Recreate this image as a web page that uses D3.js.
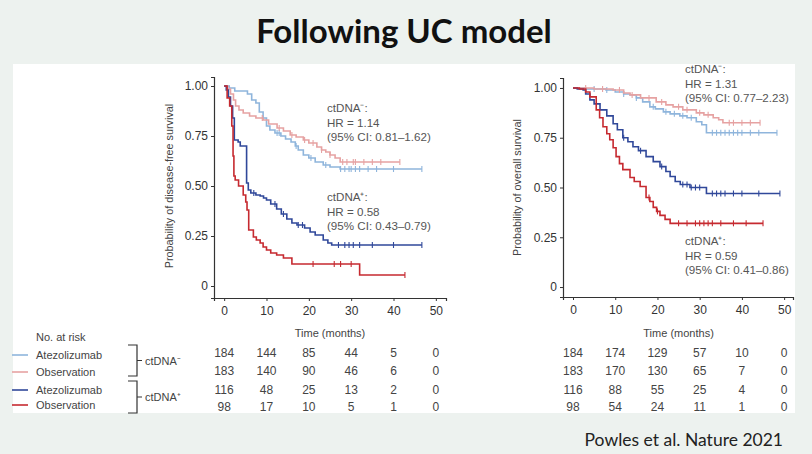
<!DOCTYPE html>
<html>
<head>
<meta charset="utf-8">
<script src="https://cdn.jsdelivr.net/npm/d3@7"></script>
<style>
  body { margin: 0; background: #edf2ef; }
  svg { display: block; font-family: "Liberation Sans", Arial, sans-serif; }
</style>
</head>
<body>
<div id="chart"></div>
<script>
// ---- data ----
const groups = ["Atezolizumab", "Observation", "Atezolizumab", "Observation"];
const groupColors = ["#8fb5dc", "#e6a2a2", "#30489a", "#c62a30"];
const xTicks = [0, 10, 20, 30, 40, 50];
const yTicks = [0, 0.25, 0.5, 0.75, 1];

// disease-free survival, [months, probability] steps
const dfsAtezoNeg = [[0,1],[1.2,0.99],[2.5,0.975],[5.5,0.96],[6.5,0.93],[7.5,0.915],[8.3,0.87],[9.2,0.84],[10,0.8],[10.8,0.78],[12,0.765],[13.4,0.75],[14.5,0.735],[15.8,0.72],[16.8,0.7],[17.5,0.68],[18.7,0.655],[20,0.64],[21.5,0.62],[23.4,0.605],[25,0.595],[27.4,0.585],[46.7,0.585]];
const dfsObsNeg = [[0,1],[0.8,0.985],[1.5,0.96],[2.2,0.93],[2.7,0.9],[3.5,0.88],[4.5,0.865],[6,0.85],[7.5,0.84],[9.2,0.83],[10.5,0.81],[12.5,0.79],[14,0.775],[15.6,0.755],[17,0.745],[18.7,0.73],[20,0.715],[21.9,0.695],[23,0.68],[24,0.67],[25,0.655],[26.2,0.64],[27.4,0.62],[41.5,0.62]];
const dfsAtezoPos = [[0,1],[0.5,0.98],[1,0.945],[1.5,0.9],[2,0.84],[2.4,0.73],[3.3,0.72],[3.8,0.7],[5.3,0.515],[5.7,0.48],[6.3,0.465],[7.5,0.455],[8.5,0.45],[9.3,0.44],[10,0.43],[11,0.41],[12.4,0.385],[13.5,0.36],[14.8,0.335],[16,0.315],[17.2,0.305],[19,0.29],[20.3,0.27],[21.5,0.255],[23.4,0.23],[24.5,0.215],[25.4,0.205],[46.7,0.205]];
const dfsObsPos = [[0,1],[0.7,0.94],[1.3,0.9],[1.8,0.8],[2.1,0.65],[2.3,0.55],[2.6,0.53],[3.4,0.5],[4.5,0.455],[5.1,0.42],[5.4,0.38],[5.8,0.28],[6.9,0.245],[7.6,0.23],[8.5,0.215],[9.2,0.195],[10,0.18],[11,0.165],[12.4,0.155],[14,0.14],[16,0.11],[32,0.055],[42.7,0.055]];

// overall survival
const osAtezoNeg = [[0,1],[3,0.995],[7.8,0.99],[10,0.98],[12,0.97],[13.5,0.965],[15,0.95],[16.5,0.93],[18.2,0.905],[19.5,0.895],[21.4,0.88],[23,0.87],[25.3,0.86],[27,0.85],[29.2,0.83],[30.5,0.815],[31.6,0.775],[48.3,0.775]];
const osObsNeg = [[0,1],[5,0.995],[9.5,0.99],[12,0.975],[13.5,0.965],[16,0.95],[19.7,0.93],[22,0.915],[23.7,0.905],[26,0.89],[29.2,0.875],[31,0.865],[33.2,0.85],[34.5,0.84],[35.5,0.825],[44.3,0.825]];
const osAtezoPos = [[0,1],[1,0.995],[2.4,0.99],[3,0.97],[4,0.94],[5,0.92],[6.4,0.89],[8,0.86],[9.5,0.82],[10.5,0.79],[11.8,0.75],[13,0.73],[14.2,0.705],[15.5,0.685],[17.3,0.655],[19,0.63],[20.6,0.605],[22,0.58],[23,0.555],[24.2,0.53],[25.4,0.515],[27.7,0.5],[31.6,0.47],[49,0.47]];
const osObsPos = [[0,1],[1.5,0.995],[3,0.98],[4,0.955],[5.5,0.89],[6.3,0.85],[7.1,0.805],[8,0.77],[8.7,0.74],[9.5,0.7],[10.2,0.655],[11,0.62],[11.8,0.59],[13.5,0.55],[14.5,0.53],[15.9,0.505],[17.3,0.45],[18.2,0.43],[19,0.4],[19.8,0.38],[20.6,0.36],[21.8,0.34],[23,0.32],[45,0.32]];

// censoring times
const dfsCensor = [
  [12.5, 13, 17, 20.5, 24, 27.5, 28.5, 29.5, 30, 31, 32, 34, 36, 40, 46.7],
  [9, 13, 16, 19, 21, 23, 25, 28, 29, 30.5, 31, 33, 35, 37, 41.5],
  [7, 12, 14, 17.5, 18.5, 27, 28.5, 29.5, 30.5, 32, 35, 40, 46.7],
  [21, 26, 27.5, 30, 42.7]
];
const osCensor = [
  [5, 8, 12, 15, 19, 22, 24, 26, 28, 33, 34, 35, 36, 37, 38, 39, 40, 42, 44, 48.3],
  [3, 7, 11, 14, 18, 21, 25, 27, 30, 32, 37, 38, 40, 42, 44.3],
  [12, 16, 21, 26, 27, 28, 29, 30, 33, 34, 35, 36, 38, 40, 44, 49],
  [18, 20, 25, 27, 29, 30, 31, 32, 33, 35, 38, 41, 45]
];

// numbers at risk
const dfsRisk = [[184,144,85,44,5,0],[183,140,90,46,6,0],[116,48,25,13,2,0],[98,17,10,5,1,0]];
const osRisk = [[184,174,129,57,10,0],[183,170,130,65,7,0],[116,88,55,25,4,0],[98,54,24,11,1,0]];

const dfsNote = [["ctDNA\u207B:", "HR = 1.14", "(95% CI: 0.81\u20131.62)"], ["ctDNA\u207A:", "HR = 0.58", "(95% CI: 0.43\u20130.79)"]];
const osNote = [["ctDNA\u207B:", "HR = 1.31", "(95% CI: 0.77\u20132.23)"], ["ctDNA\u207A:", "HR = 0.59", "(95% CI: 0.41\u20130.86)"]];

// ---- drawing ----
const W = 812, H = 454;
const svg = d3.select("#chart").append("svg")
  .attr("width", W).attr("height", H);

svg.append("rect").attr("width", W).attr("height", H).attr("fill", "#edf2ef");
svg.append("rect").attr("x", 13).attr("y", 64).attr("width", 782).attr("height", 349).attr("fill", "#fff");

svg.append("text")
  .attr("x", 404).attr("y", 43)
  .attr("text-anchor", "middle")
  .style("font-family", "Lato, 'Open Sans', sans-serif")
  .style("font-weight", "bold")
  .style("font-size", "33px")
  .attr("fill", "#111")
  .text("Following UC model");

svg.append("text")
  .attr("x", 783).attr("y", 446)
  .attr("text-anchor", "end")
  .style("font-family", "Lato, 'Open Sans', sans-serif")
  .style("font-size", "17.5px")
  .attr("fill", "#222")
  .text("Powles et al. Nature 2021");

function survAt(steps, t) {
  let s = steps[0][1];
  for (const p of steps) { if (p[0] <= t) s = p[1]; }
  return s;
}

function drawPanel(opt) {
  const x = d3.scaleLinear().domain(opt.xDomain).range(opt.xRange);
  const y = d3.scaleLinear().domain(opt.yDomain).range(opt.yRange);
  const g = svg.append("g");

  const xAxis = g.append("g")
    .attr("transform", `translate(0,${opt.yRange[0]})`)
    .call(d3.axisBottom(x).tickValues(xTicks).tickSizeOuter(0).tickSize(3).tickPadding(5));
  const yAxis = g.append("g")
    .attr("transform", `translate(${opt.xRange[0]},0)`)
    .call(d3.axisLeft(y).tickValues(yTicks).tickSizeOuter(0).tickSize(3).tickPadding(3)
      .tickFormat(d => d === 0 ? "0" : d.toFixed(2)));
  [xAxis, yAxis].forEach(a => {
    a.select(".domain").attr("stroke", "#333").attr("stroke-width", 1.2);
    a.selectAll(".tick line").attr("stroke", "#333");
    a.selectAll(".tick text").attr("fill", "#333").style("font-size", "12px")
      .style("font-family", "'Liberation Sans', Arial, sans-serif");
  });

  g.append("text")
    .attr("transform", `translate(${opt.yLabelX},${(y(0) + y(1)) / 2}) rotate(-90)`)
    .attr("text-anchor", "middle")
    .style("font-size", "10.8px").attr("fill", "#444")
    .text(opt.yLabel);
  g.append("text")
    .attr("x", (x(0) + x(50)) / 2).attr("y", 337)
    .attr("text-anchor", "middle")
    .style("font-size", "11px").attr("fill", "#444")
    .text("Time (months)");

  const line = d3.line().curve(d3.curveStepAfter).x(d => x(d[0])).y(d => y(d[1]));
  opt.curves.forEach((c, i) => {
    g.append("path")
      .attr("d", line(c))
      .attr("fill", "none")
      .attr("stroke", groupColors[i])
      .attr("stroke-width", 1.6);
    g.selectAll(null)
      .data(opt.censor[i])
      .join("line")
      .attr("x1", d => x(d)).attr("x2", d => x(d))
      .attr("y1", d => y(survAt(c, d)) - 3).attr("y2", d => y(survAt(c, d)) + 3)
      .attr("stroke", groupColors[i])
      .attr("stroke-width", 1.1);
  });

  opt.notes.forEach((lines, k) => {
    lines.forEach((s, j) => {
      g.append("text")
        .attr("x", opt.noteX).attr("y", opt.noteY[k] + j * 14.5)
        .style("font-size", "11.6px").attr("fill", "#555")
        .text(s);
    });
  });

  const rowY = [357, 375, 394, 411];
  opt.risk.forEach((row, r) => {
    g.selectAll(null)
      .data(row)
      .join("text")
      .attr("x", (d, k) => x(xTicks[k]))
      .attr("y", rowY[r])
      .attr("text-anchor", "middle")
      .style("font-size", "12px").attr("fill", "#444")
      .text(d => d);
  });
}

drawPanel({
  xDomain: [-2.4, 52.4], xRange: [214, 446],
  yDomain: [-0.06, 1.045], yRange: [298, 77],
  yLabel: "Probability of disease-free survival", yLabelX: 173,
  curves: [dfsAtezoNeg, dfsObsNeg, dfsAtezoPos, dfsObsPos],
  censor: dfsCensor,
  notes: dfsNote, noteX: 327, noteY: [112, 201],
  risk: dfsRisk
});

drawPanel({
  xDomain: [-2.37, 52.1], xRange: [563, 793],
  yDomain: [-0.05, 1.05], yRange: [297, 78],
  yLabel: "Probability of overall survival", yLabelX: 521,
  curves: [osAtezoNeg, osObsNeg, osAtezoPos, osObsPos],
  censor: osCensor,
  notes: osNote, noteX: 685, noteY: [73, 245],
  risk: osRisk
});

// risk table legend
const legend = svg.append("g");
legend.append("text").attr("x", 36).attr("y", 341)
  .style("font-size", "11px").attr("fill", "#444").text("No. at risk");
const legY = [355, 372, 390, 405];
groups.forEach((name, i) => {
  legend.append("line")
    .attr("x1", 12).attr("x2", 28).attr("y1", legY[i]).attr("y2", legY[i])
    .attr("stroke", groupColors[i]).attr("stroke-width", 1.6);
  legend.append("text").attr("x", 36).attr("y", legY[i] + 4)
    .style("font-size", "11px").attr("fill", "#444").text(name);
});

// brackets for ctDNA groups
const brackets = [[345, 376, "ctDNA\u207B"], [381, 413, "ctDNA\u207A"]];
brackets.forEach(([y0, y1, label]) => {
  const ym = (y0 + y1) / 2;
  legend.append("path")
    .attr("d", `M128,${y0}H137V${y1}H128M137,${ym}H142`)
    .attr("fill", "none").attr("stroke", "#333").attr("stroke-width", 1.2);
  legend.append("text").attr("x", 145).attr("y", ym + 4)
    .style("font-size", "11px").attr("fill", "#444").text(label);
});
</script>
</body>
</html>
